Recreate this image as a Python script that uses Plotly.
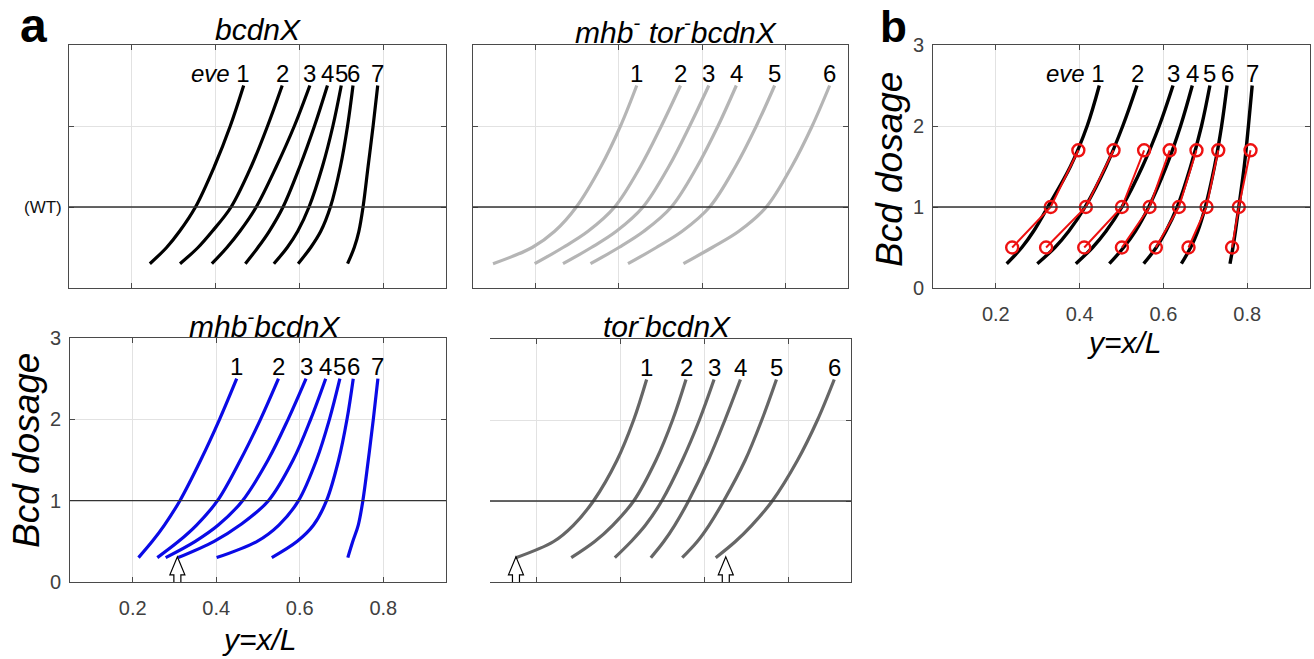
import plotly.graph_objects as go

W, H = 1314, 659

# ---------------- data ----------------
DOSAGE = [0.3, 0.5, 0.7, 1.0, 1.5, 2.0, 2.5]      # Bcd dosage (y) samples
WT_DOSAGE = 1.0

# bcdnX (panel a, top-left) : eve stripe positions y=x/L vs dosage
bcdnX_pos = [
    [0.243, 0.283, 0.314, 0.352, 0.397, 0.435, 0.467],
    [0.315, 0.358, 0.392, 0.437, 0.485, 0.524, 0.559],
    [0.391, 0.427, 0.458, 0.497, 0.545, 0.588, 0.625],
    [0.471, 0.501, 0.528, 0.561, 0.601, 0.636, 0.667],
    [0.539, 0.571, 0.596, 0.623, 0.655, 0.680, 0.700],
    [0.597, 0.627, 0.651, 0.674, 0.698, 0.715, 0.728],
    [0.715, 0.731, 0.742, 0.752, 0.764, 0.776, 0.787],
]
# mhb- tor- bcdnX (top-right)
mhb_tor_pos = [
    [0.098, 0.192, 0.246, 0.298, 0.357, 0.404, 0.443],
    [0.198, 0.266, 0.326, 0.390, 0.452, 0.502, 0.548],
    [0.266, 0.334, 0.394, 0.458, 0.520, 0.570, 0.616],
    [0.332, 0.400, 0.460, 0.526, 0.588, 0.638, 0.682],
    [0.422, 0.490, 0.552, 0.618, 0.680, 0.730, 0.774],
    [0.555, 0.624, 0.688, 0.754, 0.815, 0.864, 0.906],
]
# mhb- bcdnX (bottom-left)
mhb_pos = [
    [0.214, 0.247, 0.276, 0.313, 0.363, 0.408, 0.449],
    [0.259, 0.310, 0.353, 0.403, 0.458, 0.506, 0.549],
    [0.279, 0.350, 0.405, 0.463, 0.524, 0.572, 0.615],
    [0.309, 0.395, 0.457, 0.525, 0.584, 0.626, 0.662],
    [0.401, 0.498, 0.550, 0.597, 0.640, 0.671, 0.696],
    [0.533, 0.594, 0.633, 0.664, 0.693, 0.713, 0.728],
    [0.715, 0.727, 0.740, 0.751, 0.764, 0.776, 0.787],
]
# tor- bcdnX (bottom-right)
tor_pos = [
    [0.150, 0.240, 0.287, 0.335, 0.391, 0.431, 0.462],
    [0.282, 0.338, 0.381, 0.431, 0.484, 0.524, 0.556],
    [0.386, 0.425, 0.459, 0.498, 0.547, 0.588, 0.623],
    [0.472, 0.503, 0.529, 0.562, 0.609, 0.649, 0.686],
    [0.547, 0.583, 0.611, 0.646, 0.697, 0.737, 0.772],
    [0.627, 0.674, 0.713, 0.762, 0.822, 0.870, 0.910],
]
# panel b model curves
b_model_pos = [
    [0.226, 0.262, 0.290, 0.324, 0.378, 0.418, 0.447],
    [0.299, 0.341, 0.374, 0.413, 0.463, 0.503, 0.537],
    [0.391, 0.431, 0.463, 0.501, 0.550, 0.590, 0.623],
    [0.471, 0.505, 0.533, 0.565, 0.607, 0.641, 0.669],
    [0.553, 0.583, 0.606, 0.633, 0.665, 0.691, 0.711],
    [0.643, 0.665, 0.682, 0.700, 0.722, 0.739, 0.752],
    [0.759, 0.766, 0.772, 0.780, 0.793, 0.803, 0.812],
]
# panel b measured (red)
RED_DOSAGE = [0.5, 1.0, 1.7]
b_measured_pos = [
    [0.239, 0.331, 0.397],
    [0.320, 0.415, 0.481],
    [0.411, 0.501, 0.554],
    [0.501, 0.567, 0.615],
    [0.582, 0.637, 0.679],
    [0.660, 0.703, 0.731],
    [0.764, 0.780, 0.808],
]

labels7 = ["1", "2", "3", "4", "5", "6", "7"]
labels6 = ["1", "2", "3", "4", "5", "6"]

arrows_mhb = [0.307]
arrows_tor = [0.150, 0.651]
ARROW_TIP = 0.31

x_ticks = [0.2, 0.4, 0.6, 0.8]
x_ticktext = ["0.2", "0.4", "0.6", "0.8"]
y_ticks = [0, 1, 2, 3]
y_ticktext = ["0", "1", "2", "3"]

# ---------------- layout geometry (pixels) ----------------
FONT = "Liberation Sans, Arial, Helvetica, sans-serif"
XR = [0.05, 0.95]
XR_BR = [0.088, 0.95]
YR = [0, 3]

panels = {
    # name: (axis suffix, px left, px right, px top, px bottom, x range)
    "TL": ("", 69, 446, 45, 288, XR),
    "TR": ("2", 473, 848, 45, 288, XR),
    "BL": ("3", 70, 446, 338, 582, XR),
    "BR": ("4", 490, 851, 339, 582, XR_BR),
    "B":  ("5", 933, 1310, 45, 288, XR),
}


def px(xp):
    return xp / W


def py(yp):
    return 1 - yp / H


fig = go.Figure()

AXCOL = "#4a4a4a"
GRIDCOL = "#e2e2e2"
TICKFONT = dict(family=FONT, size=20, color="#404040")

layout = dict(
    width=W, height=H,
    margin=dict(l=0, r=0, t=0, b=0, autoexpand=False),
    paper_bgcolor="white", plot_bgcolor="white",
    showlegend=False,
)

for name, (s, l, r, t, b, xr) in panels.items():
    show = name in ("BL", "B")
    xa = dict(
        domain=[px(l), px(r)], range=xr, anchor="y" + s,
        tickvals=x_ticks, ticktext=x_ticktext,
        ticks="inside", ticklen=5, tickcolor=AXCOL,
        showline=True, linecolor=AXCOL, linewidth=1, mirror="allticks",
        showgrid=True, gridcolor=GRIDCOL, gridwidth=1, zeroline=False,
        tickfont=TICKFONT, showticklabels=show, automargin=False,
        ticklabelstandoff=8, fixedrange=True,
    )
    ya = dict(
        domain=[py(b), py(t)], range=YR, anchor="x" + s,
        tickvals=y_ticks, ticktext=y_ticktext,
        ticks="inside", ticklen=5, tickcolor=AXCOL,
        showline=True, linecolor=AXCOL, linewidth=1, mirror="allticks",
        showgrid=True, gridcolor=GRIDCOL, gridwidth=1, zeroline=False,
        tickfont=TICKFONT, showticklabels=show, automargin=False,
        ticklabelstandoff=4, fixedrange=True,
    )
    if name == "BR":
        ya["side"] = "right"
        ya["mirror"] = False
    layout["xaxis" + s] = xa
    layout["yaxis" + s] = ya

fig.update_layout(**layout)

shapes = []
annotations = []

# WT reference lines
for name, (s, l, r, t, b, xr) in panels.items():
    xref = ("x" + s) if s else "x"
    yref = ("y" + s) if s else "y"
    shapes.append(dict(type="line", xref=xref + " domain", yref=yref,
                       x0=0, x1=1, y0=WT_DOSAGE, y1=WT_DOSAGE,
                       line=dict(color="#333333", width=1.3), layer="above"))

# "(WT)" label on the top-left panel's y axis
annotations.append(dict(x=0, y=WT_DOSAGE, xref="x domain", yref="y",
                        text="(WT)", showarrow=False, xanchor="right",
                        yanchor="middle", xshift=-5,
                        font=dict(family=FONT, size=17, color="#111111")))


def add_curves(series, s, color, width, labels, eve=False):
    xa = ("x" + s) if s else "x"
    ya = ("y" + s) if s else "y"
    for i, xs in enumerate(series):
        fig.add_trace(go.Scatter(
            x=xs, y=DOSAGE, mode="lines", xaxis=xa, yaxis=ya,
            line=dict(color=color, width=width, shape="spline", smoothing=1.0),
            hoverinfo="skip"))
        txt = labels[i]
        if eve and i == 0:
            annotations.append(dict(
                x=xs[-1], y=DOSAGE[-1], xref=xa, yref=ya,
                text="<i>eve</i> " + txt, showarrow=False,
                xanchor="right", yanchor="bottom", xshift=8, yshift=-3,
                font=dict(family=FONT, size=24, color="black")))
        else:
            annotations.append(dict(
                x=xs[-1], y=DOSAGE[-1], xref=xa, yref=ya,
                text=txt, showarrow=False,
                xanchor="center", yanchor="bottom", yshift=-3,
                font=dict(family=FONT, size=24, color="black")))


add_curves(bcdnX_pos, "", "black", 3.2, labels7, eve=True)
add_curves(mhb_tor_pos, "2", "#b5b5b5", 3.2, labels6)
add_curves(mhb_pos, "3", "#0a0ae6", 3.2, labels7)
add_curves(tor_pos, "4", "#666666", 3.2, labels6)
add_curves(b_model_pos, "5", "black", 3.4, labels7, eve=True)

for xs in b_measured_pos:
    fig.add_trace(go.Scatter(
        x=xs, y=RED_DOSAGE, mode="lines+markers", xaxis="x5", yaxis="y5",
        line=dict(color="#ee1111", width=2),
        marker=dict(symbol="circle-open", size=12, color="#ee1111",
                    line=dict(width=2.4, color="#ee1111")),
        hoverinfo="skip"))


# hollow arrows
def arrow_shapes(xs, name):
    s, l, r, t, b, xr = panels[name]
    sx = (xr[1] - xr[0]) / (r - l)
    sy = (YR[1] - YR[0]) / (b - t)
    out = []
    for xc in xs:
        tip = ARROW_TIP
        neck = tip - 18 * sy
        base = tip - 26 * sy
        hw, sw = 7.5 * sx, 3.5 * sx
        pts = [(xc, tip), (xc + hw, neck), (xc + sw, neck), (xc + sw, base),
               (xc - sw, base), (xc - sw, neck), (xc - hw, neck)]
        path = "M " + " L ".join(f"{a:.5f},{c:.5f}" for a, c in pts) + " Z"
        out.append(dict(type="path", path=path, xref="x" + s, yref="y" + s,
                        fillcolor="white", line=dict(color="black", width=1.2),
                        layer="above"))
    return out


shapes += arrow_shapes(arrows_mhb, "BL")
shapes += arrow_shapes(arrows_tor, "BR")

# titles and panel letters
TFONT = dict(family=FONT, size=30, color="black")
for txt, cx, cy in [
    ("<i>bcdnX</i>", 258, 30),
    ("<i>mhb<sup>-</sup> tor<sup>-</sup>bcdnX</i>", 676, 30),
    ("<i>mhb<sup>-</sup>bcdnX</i>", 264, 324),
    ("<i>tor<sup>-</sup>bcdnX</i>", 667, 324),
]:
    annotations.append(dict(x=px(cx), y=py(cy), xref="paper", yref="paper",
                            text=txt, showarrow=False, xanchor="center",
                            yanchor="middle", font=TFONT))

annotations.append(dict(x=px(33), y=py(26), xref="paper", yref="paper",
                        text="<b>a</b>", showarrow=False, xanchor="center",
                        yanchor="middle", font=dict(family=FONT, size=48, color="black")))
annotations.append(dict(x=px(893), y=py(27), xref="paper", yref="paper",
                        text="<b>b</b>", showarrow=False, xanchor="center",
                        yanchor="middle", font=dict(family=FONT, size=44, color="black")))

# axis titles
AFONT = dict(family=FONT, size=37, color="black")
for cx, cy in [(26, 451), (890, 170)]:
    annotations.append(dict(x=px(cx), y=py(cy), xref="paper", yref="paper",
                            text="<i>Bcd dosage</i>", showarrow=False, textangle=-90,
                            xanchor="center", yanchor="middle", font=AFONT))
XFONT = dict(family=FONT, size=30, color="black")
for cx, cy in [(259, 639), (1124, 342)]:
    annotations.append(dict(x=px(cx), y=py(cy), xref="paper", yref="paper",
                            text="<i>y=x/L</i>", showarrow=False,
                            xanchor="center", yanchor="middle", font=XFONT))

fig.update_layout(shapes=shapes, annotations=annotations)
fig.write_html("out.html")
